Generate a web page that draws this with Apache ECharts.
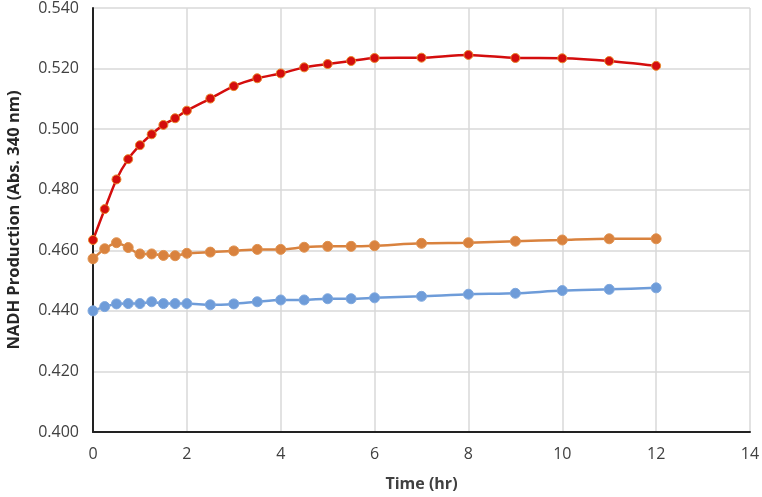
<!DOCTYPE html>
<html>
<head>
<meta charset="utf-8">
<script src="https://cdn.jsdelivr.net/npm/echarts@6/dist/echarts.min.js"></script>
<style>html,body{margin:0;padding:0;background:#fff;}#c{width:762px;height:497px;}</style>
</head>
<body>
<div id="c"></div>
<script>
const times = [0, 0.25, 0.5, 0.75, 1, 1.25, 1.5, 1.75, 2, 2.5, 3, 3.5, 4, 4.5, 5, 5.5, 6, 7, 8, 9, 10, 11, 12];
const redValues = [0.4634, 0.4736, 0.4834, 0.4901, 0.4947, 0.4983, 0.5014, 0.5036, 0.5061, 0.5101, 0.5142, 0.5168, 0.5184, 0.5204, 0.5215, 0.5225, 0.5235, 0.5236, 0.5245, 0.5235, 0.5234, 0.5225, 0.5209];
const orangeValues = [0.4572, 0.4605, 0.4625, 0.4609, 0.4588, 0.4588, 0.4583, 0.4582, 0.4590, 0.4594, 0.4598, 0.4603, 0.4603, 0.4610, 0.4613, 0.4613, 0.4615, 0.4623, 0.4625, 0.4630, 0.4634, 0.4638, 0.4638];
const blueValues = [0.4400, 0.4414, 0.4423, 0.4424, 0.4424, 0.4430, 0.4424, 0.4424, 0.4424, 0.4420, 0.4423, 0.4430, 0.4436, 0.4436, 0.4440, 0.4440, 0.4443, 0.4448, 0.4455, 0.4458, 0.4467, 0.4471, 0.4476];
const xTitle = 'Time (hr)';
const yTitle = 'NADH Production (Abs. 340 nm)';

function pairs(vals){ return times.map((t,i)=>[t, vals[i]]); }

const font = "'Open Sans', sans-serif";
const chart = echarts.init(document.getElementById('c'));
function mk(name, vals, color, border, size, z){
  return {
    name, type:'line', data: pairs(vals), smooth: 0.25, z,
    symbol:'circle', symbolSize:size,
    lineStyle:{color, width:2.5},
    itemStyle:{color, borderColor:border, borderWidth:1},
    emphasis:{disabled:true}
  };
}
chart.setOption({
  animation:false,
  grid:{left:93, right:12, top:8, bottom:65, containLabel:false, outerBoundsMode:'none'},
  xAxis:{
    type:'value', min:0, max:14, interval:2,
    name:xTitle, nameLocation:'middle', nameGap:44,
    nameTextStyle:{fontFamily:font, fontWeight:'bold', fontSize:16, color:'#404040'},
    axisLine:{show:true, lineStyle:{color:'#222', width:2}},
    axisTick:{show:false},
    axisLabel:{fontFamily:font, fontSize:16, color:'#404040', margin:14},
    splitLine:{show:true, lineStyle:{color:'#d9d9d9', width:1.5}}
  },
  yAxis:{
    type:'value', min:0.4, max:0.54, interval:0.02,
    name:yTitle, nameLocation:'middle', nameGap:70,
    nameTextStyle:{fontFamily:font, fontWeight:'bold', fontSize:16.5, color:'#262626'},
    axisLine:{show:true, lineStyle:{color:'#222', width:2}},
    axisTick:{show:false},
    axisLabel:{fontFamily:font, fontSize:16, color:'#404040', margin:14, formatter:v=>v.toFixed(3)},
    splitLine:{show:true, lineStyle:{color:'#d9d9d9', width:1.5}}
  },
  series:[
    mk('Blue', blueValues, '#6e9cd9', '#7fa8de', 10, 3),
    mk('Orange', orangeValues, '#d9823e', '#e0924f', 10, 4),
    mk('Red', redValues, '#d40d0d', '#e8872a', 9, 5)
  ]
});
</script>
</body>
</html>
